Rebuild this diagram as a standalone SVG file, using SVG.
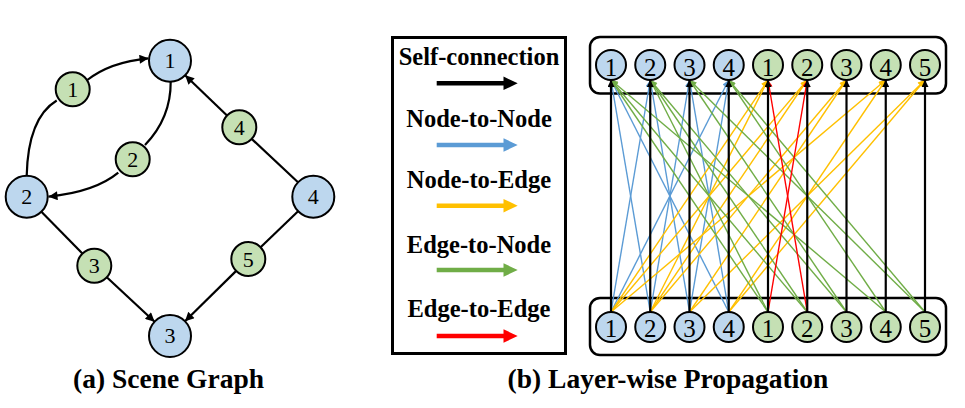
<svg xmlns="http://www.w3.org/2000/svg" width="965" height="408" viewBox="0 0 965 408">
<style>
.bg{fill:#ffffff}
.nb{fill:#BDD7EE;stroke:#000;stroke-width:2}
.ng{fill:#C5E0B4;stroke:#000;stroke-width:2}
.d21{font-family:"Liberation Serif","Times New Roman",serif;font-size:22px;text-anchor:middle;fill:#000}
.d25{font-family:"Liberation Serif","Times New Roman",serif;font-size:25px;text-anchor:middle;fill:#000}
.sg{fill:none;stroke:#000;stroke-width:2.2}
.box{fill:none;stroke:#000;stroke-width:2.5}
.leg{fill:#fff;stroke:#000;stroke-width:3}
.lt{font-family:"Liberation Serif","Times New Roman",serif;font-size:24.5px;font-weight:bold;text-anchor:middle;fill:#000}
.cap{font-family:"Liberation Serif","Times New Roman",serif;font-size:27.5px;font-weight:bold;text-anchor:middle;fill:#000}
.k{stroke:#000;stroke-width:2.2;fill:none;marker-end:url(#mk)}
.b{stroke:#5B9BD5;stroke-width:1.4;fill:none;marker-end:url(#mb)}
.y{stroke:#FFC000;stroke-width:1.4;fill:none;marker-end:url(#my)}
.g{stroke:#70AD47;stroke-width:1.4;fill:none;marker-end:url(#mg)}
.r{stroke:#FF0000;stroke-width:1.4;fill:none;marker-end:url(#mr)}
</style>
<defs>
<marker id="ah" viewBox="0 0 10 10" refX="10" refY="5" markerWidth="11" markerHeight="9" markerUnits="userSpaceOnUse" orient="auto"><path d="M0,0 L10,5 L0,10 z" fill="#000"/></marker>
<marker id="mk" viewBox="0 0 10 10" refX="10" refY="5" markerWidth="8" markerHeight="7" markerUnits="userSpaceOnUse" orient="auto"><path d="M0,0 L10,5 L0,10 z" fill="#000"/></marker>
<marker id="mb" viewBox="0 0 10 10" refX="10" refY="5" markerWidth="8" markerHeight="7" markerUnits="userSpaceOnUse" orient="auto"><path d="M0,0 L10,5 L0,10 z" fill="#5B9BD5"/></marker>
<marker id="my" viewBox="0 0 10 10" refX="10" refY="5" markerWidth="8" markerHeight="7" markerUnits="userSpaceOnUse" orient="auto"><path d="M0,0 L10,5 L0,10 z" fill="#FFC000"/></marker>
<marker id="mg" viewBox="0 0 10 10" refX="10" refY="5" markerWidth="8" markerHeight="7" markerUnits="userSpaceOnUse" orient="auto"><path d="M0,0 L10,5 L0,10 z" fill="#70AD47"/></marker>
<marker id="mr" viewBox="0 0 10 10" refX="10" refY="5" markerWidth="8" markerHeight="7" markerUnits="userSpaceOnUse" orient="auto"><path d="M0,0 L10,5 L0,10 z" fill="#FF0000"/></marker>
</defs>
<rect class="bg" x="0" y="0" width="965" height="408"/>

<!-- (a) Scene graph connectors -->
<g id="scene-connectors">
<path class="sg" d="M26.7,175.7 Q28,118 56.7,100.5"/>
<path class="sg" d="M87.3,80 Q110,62 148.5,58.3" marker-end="url(#ah)"/>
<path class="sg" d="M170.7,81.5 Q171,118 145,145"/>
<path class="sg" d="M118.3,172.7 Q95,192 48.5,196.7" marker-end="url(#ah)"/>
<path class="sg" d="M41.4,211.7 L82.4,253.6"/>
<path class="sg" d="M106.8,277.3 L154.6,321.7" marker-end="url(#ah)"/>
<path class="sg" d="M298,182.3 L251.7,138.9"/>
<path class="sg" d="M227,115.5 L185.1,75.3" marker-end="url(#ah)"/>
<path class="sg" d="M298.1,211.2 L260.6,247.2"/>
<path class="sg" d="M236.2,270.9 L185,321.3" marker-end="url(#ah)"/>
</g>

<g id="sg-n1"><circle class="nb" cx="170" cy="60.7" r="21"/><text class="d21" x="170" y="68">1</text></g>
<g id="sg-n2"><circle class="nb" cx="26.7" cy="196.7" r="21"/><text class="d21" x="26.7" y="204">2</text></g>
<g id="sg-n3"><circle class="nb" cx="170" cy="336" r="21"/><text class="d21" x="170" y="343.3">3</text></g>
<g id="sg-n4"><circle class="nb" cx="313.3" cy="196.7" r="21"/><text class="d21" x="313.3" y="204">4</text></g>
<g id="sg-e1"><circle class="ng" cx="72.7" cy="89.3" r="17"/><text class="d21" x="72.7" y="96.8">1</text></g>
<g id="sg-e2"><circle class="ng" cx="132.7" cy="159.3" r="17"/><text class="d21" x="132.7" y="166.8">2</text></g>
<g id="sg-e3"><circle class="ng" cx="94.3" cy="265.7" r="17"/><text class="d21" x="94.3" y="273.2">3</text></g>
<g id="sg-e4"><circle class="ng" cx="239.3" cy="127.3" r="17"/><text class="d21" x="239.3" y="134.8">4</text></g>
<g id="sg-e5"><circle class="ng" cx="248.3" cy="259" r="17"/><text class="d21" x="248.3" y="266.5">5</text></g>

<text class="cap" x="168.5" y="388">(a) Scene Graph</text>

<!-- Legend -->
<g id="legend">
<rect class="leg" x="392.5" y="37.5" width="173" height="316"/>
<text class="lt" x="479" y="65">Self-connection</text>
<path d="M436.7,81 L503.5,81 L503.5,76.6 L517.7,83.3 L503.5,90 L503.5,85.6 L436.7,85.6 z" fill="#000"/>
<text class="lt" x="479" y="127.3">Node-to-Node</text>
<path d="M436.7,142.7 L503.5,142.7 L503.5,138.3 L517.7,145 L503.5,151.7 L503.5,147.3 L436.7,147.3 z" fill="#5B9BD5"/>
<text class="lt" x="479" y="188.3">Node-to-Edge</text>
<path d="M436.7,203.4 L503.5,203.4 L503.5,199 L517.7,205.7 L503.5,212.4 L503.5,208 L436.7,208 z" fill="#FFC000"/>
<text class="lt" x="479" y="252.7">Edge-to-Node</text>
<path d="M436.7,267.7 L503.5,267.7 L503.5,263.3 L517.7,270 L503.5,276.7 L503.5,272.3 L436.7,272.3 z" fill="#70AD47"/>
<text class="lt" x="479" y="317.3">Edge-to-Edge</text>
<path d="M436.7,333.7 L503.5,333.7 L503.5,329.3 L517.7,336 L503.5,342.7 L503.5,338.3 L436.7,338.3 z" fill="#FF0000"/>
</g>

<!-- (b) Layer boxes -->
<rect id="top-layer" class="box" x="590" y="37" width="356" height="56.5" rx="10"/>
<rect id="bottom-layer" class="box" x="590" y="298" width="356" height="57" rx="10"/>

<g id="layer-connectors">
<!-- Node-to-Node -->
<line class="b" x1="611" y1="312" x2="650.25" y2="80"/>
<line class="b" x1="650.25" y1="312" x2="611" y2="80"/>
<line class="b" x1="650.25" y1="312" x2="689.5" y2="80"/>
<line class="b" x1="689.5" y1="312" x2="650.25" y2="80"/>
<line class="b" x1="611" y1="312" x2="728.75" y2="80"/>
<line class="b" x1="728.75" y1="312" x2="611" y2="80"/>
<line class="b" x1="689.5" y1="312" x2="728.75" y2="80"/>
<line class="b" x1="728.75" y1="312" x2="689.5" y2="80"/>
<!-- Node-to-Edge -->
<line class="y" x1="611" y1="312" x2="768" y2="80"/>
<line class="y" x1="611" y1="312" x2="807.25" y2="80"/>
<line class="y" x1="611" y1="312" x2="885.75" y2="80"/>
<line class="y" x1="650.25" y1="312" x2="768" y2="80"/>
<line class="y" x1="650.25" y1="312" x2="807.25" y2="80"/>
<line class="y" x1="650.25" y1="312" x2="846.5" y2="80"/>
<line class="y" x1="689.5" y1="312" x2="846.5" y2="80"/>
<line class="y" x1="689.5" y1="312" x2="925" y2="80"/>
<line class="y" x1="728.75" y1="312" x2="885.75" y2="80"/>
<line class="y" x1="728.75" y1="312" x2="925" y2="80"/>
<!-- Edge-to-Node -->
<line class="g" x1="768" y1="312" x2="611" y2="80"/>
<line class="g" x1="768" y1="312" x2="650.25" y2="80"/>
<line class="g" x1="807.25" y1="312" x2="611" y2="80"/>
<line class="g" x1="807.25" y1="312" x2="650.25" y2="80"/>
<line class="g" x1="846.5" y1="312" x2="650.25" y2="80"/>
<line class="g" x1="846.5" y1="312" x2="689.5" y2="80"/>
<line class="g" x1="885.75" y1="312" x2="611" y2="80"/>
<line class="g" x1="885.75" y1="312" x2="728.75" y2="80"/>
<line class="g" x1="925" y1="312" x2="689.5" y2="80"/>
<line class="g" x1="925" y1="312" x2="728.75" y2="80"/>
<!-- Edge-to-Edge -->
<line class="r" x1="768" y1="312" x2="807.25" y2="80"/>
<line class="r" x1="807.25" y1="312" x2="768" y2="80"/>
<!-- Self-connection -->
<line class="k" x1="611" y1="312" x2="611" y2="80"/>
<line class="k" x1="650.25" y1="312" x2="650.25" y2="80"/>
<line class="k" x1="689.5" y1="312" x2="689.5" y2="80"/>
<line class="k" x1="728.75" y1="312" x2="728.75" y2="80"/>
<line class="k" x1="768" y1="312" x2="768" y2="80"/>
<line class="k" x1="807.25" y1="312" x2="807.25" y2="80"/>
<line class="k" x1="846.5" y1="312" x2="846.5" y2="80"/>
<line class="k" x1="885.75" y1="312" x2="885.75" y2="80"/>
<line class="k" x1="925" y1="312" x2="925" y2="80"/>
</g>

<g id="top-n1"><circle class="nb" cx="611" cy="65" r="15"/><text class="d25" x="611" y="75.5">1</text></g>
<g id="top-n2"><circle class="nb" cx="650.25" cy="65" r="15"/><text class="d25" x="650.25" y="75.5">2</text></g>
<g id="top-n3"><circle class="nb" cx="689.5" cy="65" r="15"/><text class="d25" x="689.5" y="75.5">3</text></g>
<g id="top-n4"><circle class="nb" cx="728.75" cy="65" r="15"/><text class="d25" x="728.75" y="75.5">4</text></g>
<g id="top-e1"><circle class="ng" cx="768" cy="65" r="15"/><text class="d25" x="768" y="75.5">1</text></g>
<g id="top-e2"><circle class="ng" cx="807.25" cy="65" r="15"/><text class="d25" x="807.25" y="75.5">2</text></g>
<g id="top-e3"><circle class="ng" cx="846.5" cy="65" r="15"/><text class="d25" x="846.5" y="75.5">3</text></g>
<g id="top-e4"><circle class="ng" cx="885.75" cy="65" r="15"/><text class="d25" x="885.75" y="75.5">4</text></g>
<g id="top-e5"><circle class="ng" cx="925" cy="65" r="15"/><text class="d25" x="925" y="75.5">5</text></g>

<g id="bot-n1"><circle class="nb" cx="611" cy="327" r="15"/><text class="d25" x="611" y="336.7">1</text></g>
<g id="bot-n2"><circle class="nb" cx="650.25" cy="327" r="15"/><text class="d25" x="650.25" y="336.7">2</text></g>
<g id="bot-n3"><circle class="nb" cx="689.5" cy="327" r="15"/><text class="d25" x="689.5" y="336.7">3</text></g>
<g id="bot-n4"><circle class="nb" cx="728.75" cy="327" r="15"/><text class="d25" x="728.75" y="336.7">4</text></g>
<g id="bot-e1"><circle class="ng" cx="768" cy="327" r="15"/><text class="d25" x="768" y="336.7">1</text></g>
<g id="bot-e2"><circle class="ng" cx="807.25" cy="327" r="15"/><text class="d25" x="807.25" y="336.7">2</text></g>
<g id="bot-e3"><circle class="ng" cx="846.5" cy="327" r="15"/><text class="d25" x="846.5" y="336.7">3</text></g>
<g id="bot-e4"><circle class="ng" cx="885.75" cy="327" r="15"/><text class="d25" x="885.75" y="336.7">4</text></g>
<g id="bot-e5"><circle class="ng" cx="925" cy="327" r="15"/><text class="d25" x="925" y="336.7">5</text></g>

<text class="cap" x="668" y="388">(b) Layer-wise Propagation</text>
</svg>
